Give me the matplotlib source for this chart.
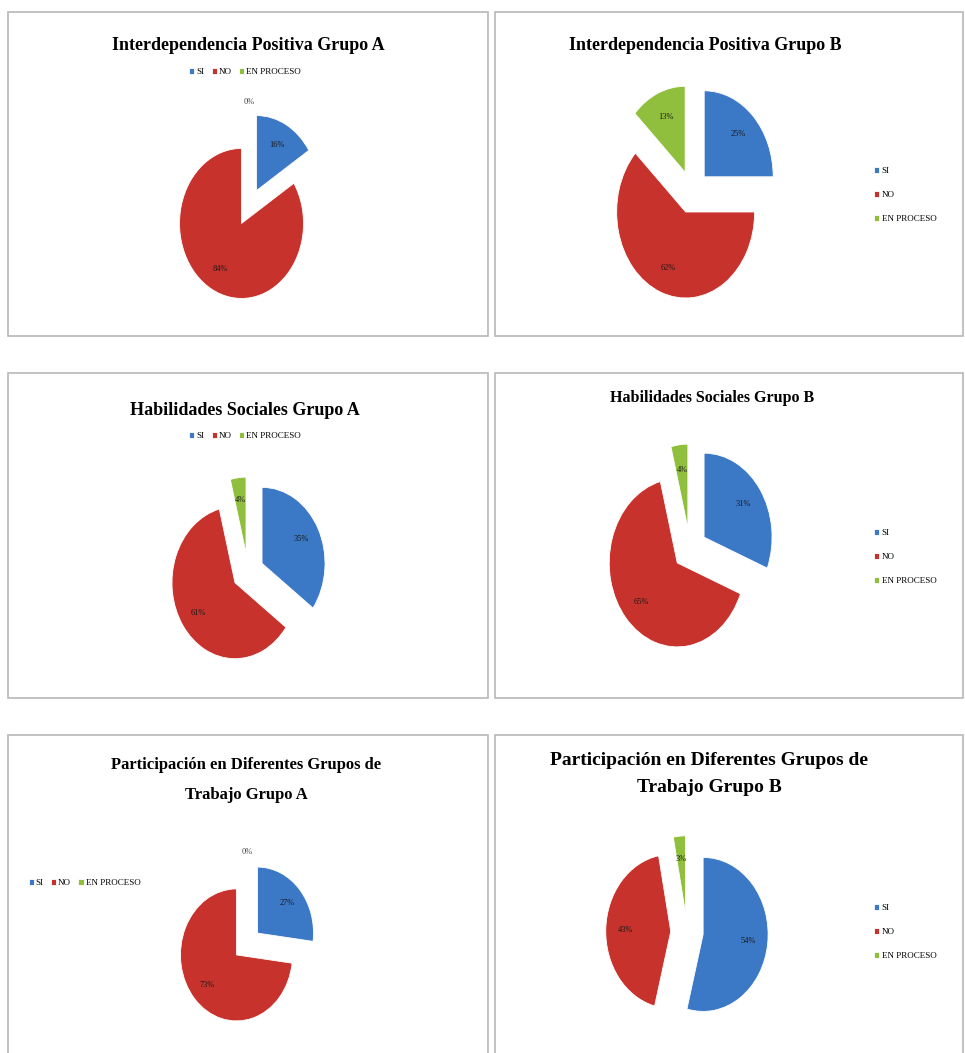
import numpy as np
import matplotlib.pyplot as plt
from matplotlib.patches import Rectangle

# data (percent per answer)
titles = ['Interdependencia Positiva Grupo A',
          'Interdependencia Positiva Grupo B',
          'Habilidades Sociales Grupo A',
          'Habilidades Sociales Grupo B',
          'Participación en Diferentes Grupos de\nTrabajo Grupo A',
          'Participación en Diferentes Grupos de\nTrabajo Grupo B']
answers = ['SI', 'NO', 'EN PROCESO']
si = [16, 25, 35, 31, 27, 54]
no = [84, 62, 61, 65, 73, 43]
en_proceso = [0, 13, 4, 4, 0, 3]

colors = ['#3b78c6', '#c8322c', '#8fbf3c']

W, H = 965, 1053
fig = plt.figure(figsize=(W / 100, H / 100), dpi=100)

# panel boxes (x0, y0, x1, y1) in pixels from top-left
boxes = [(8, 12, 488, 336), (495, 12, 963, 336),
         (8, 373, 488, 698), (495, 373, 963, 698),
         (8, 735, 488, 1060), (495, 735, 963, 1060)]
# pie center and radii in pixels
pies = [(249, 207, 62, 75), (692, 192, 69, 86),
        (248, 572, 63, 76), (690, 549, 68, 84),
        (247, 944, 56, 66), (687, 932, 65, 77)]
title_pos = [(248, 45), (705, 45), (245, 410), (712, 398), (246, 780), (709, 774)]
title_size = [13, 13, 13, 11.5, 12, 14]
title_spacing = [1.6, 1.6, 1.6, 1.6, 2.1, 1.75]
# legend: (kind, x, y)
legends = [('top', 245, 72), ('right', 869, 195), ('top', 245, 436),
           ('right', 869, 557), ('left', 24, 883), ('right', 869, 932)]

L = 1.6
for i in range(6):
    x0, y0, x1, y1 = boxes[i]
    fig.patches.append(Rectangle((x0 / W, 1 - y1 / H), (x1 - x0) / W, (y1 - y0) / H,
                                 transform=fig.transFigure, fill=False,
                                 edgecolor='#b8b8b8', linewidth=1.2))

    cx, cy, rx, ry = pies[i]
    ax = fig.add_axes([(cx - L * rx) / W, 1 - (cy + L * ry) / H,
                       2 * L * rx / W, 2 * L * ry / H])
    vals = [si[i], no[i], en_proceso[i]]
    wedges, texts, autotexts = ax.pie(vals, colors=colors, startangle=90,
                                      counterclock=False, explode=[0.25] * 3,
                                      autopct='%.0f%%', pctdistance=0.7,
                                      wedgeprops=dict(edgecolor='white', linewidth=0.6),
                                      textprops=dict(fontsize=6, color='#1a1a1a',
                                                     family='Liberation Serif'))
    for v, t in zip(vals, autotexts):
        if v == 0:
            t.set_position((0, 1.4))
            t.set_color('#444444')
    ax.set_aspect('auto')
    ax.set_xlim(-L, L)
    ax.set_ylim(-L, L)
    ax.axis('off')

    tx, ty = title_pos[i]
    fig.text(tx / W, 1 - ty / H, titles[i], ha='center', va='center',
             family='Liberation Serif', fontweight='bold', fontsize=title_size[i],
             linespacing=title_spacing[i])

    kind, lx, ly = legends[i]
    if kind == 'right':
        ax.legend(wedges, answers, loc='center left', bbox_to_anchor=(lx / W, 1 - ly / H),
                  bbox_transform=fig.transFigure, frameon=False, ncol=1,
                  prop=dict(family='Liberation Serif', size=6.5),
                  handlelength=0.6, handleheight=0.6, handletextpad=0.3,
                  labelspacing=1.75, borderpad=0)
    else:
        ax.legend(wedges, answers, loc='center left' if kind == 'left' else 'center',
                  bbox_to_anchor=(lx / W, 1 - ly / H),
                  bbox_transform=fig.transFigure, frameon=False, ncol=3,
                  prop=dict(family='Liberation Serif', size=6.5),
                  handlelength=0.6, handleheight=0.6, handletextpad=0.2,
                  columnspacing=0.8, borderpad=0)

fig.savefig('out.png', dpi=100)
